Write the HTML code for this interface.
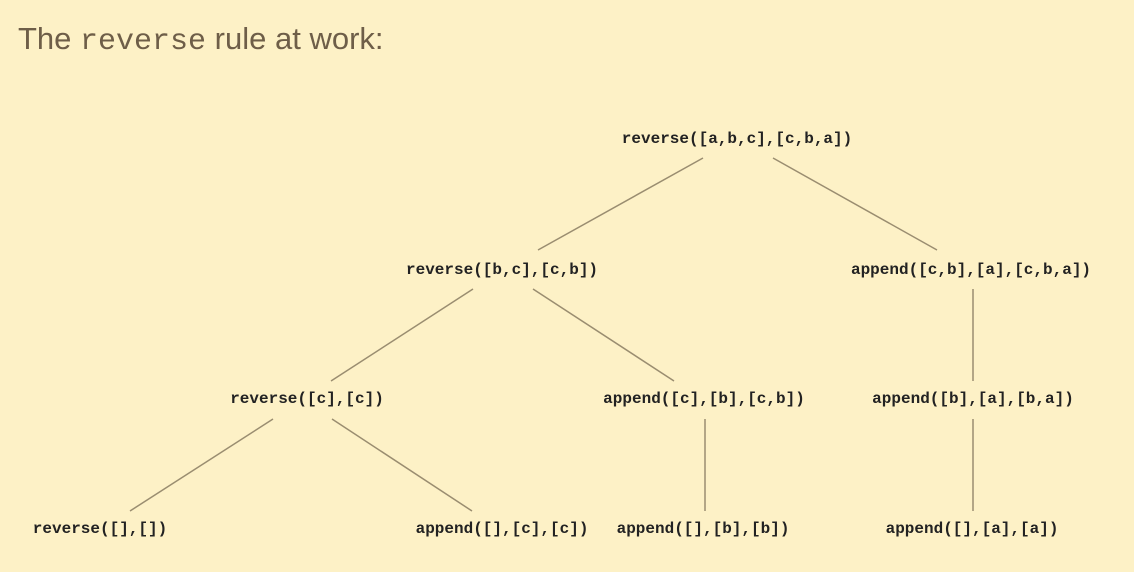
<!DOCTYPE html>
<html><head><style>
html,body{margin:0;padding:0;}
body{width:1134px;height:572px;background:#fdf1c6;position:relative;overflow:hidden;}
.t{position:absolute;left:18px;top:21px;font-family:"Liberation Sans",sans-serif;font-size:31px;color:#6e5e48;white-space:nowrap;}
.t code{font-family:"Liberation Mono",monospace;font-size:30px;}
.n{position:absolute;font-family:"Liberation Mono",monospace;font-weight:bold;font-size:16px;color:#222;white-space:nowrap;transform:translate(-50%,-50%);}
svg{position:absolute;left:0;top:0;}
</style></head><body>
<div class="t">The <code>reverse</code> rule at work:</div>
<svg width="1134" height="572"><g stroke="#9a8d70" stroke-width="1.5">
<line x1="703" y1="158" x2="538" y2="250"/>
<line x1="773" y1="158" x2="937" y2="250"/>
<line x1="473" y1="289" x2="331" y2="381"/>
<line x1="533" y1="289" x2="674" y2="381"/>
<line x1="973" y1="289" x2="973" y2="381"/>
<line x1="273" y1="419" x2="130" y2="511"/>
<line x1="332" y1="419" x2="472" y2="511"/>
<line x1="705" y1="419" x2="705" y2="511"/>
<line x1="973" y1="419" x2="973" y2="511"/>
</g></svg>
<div class="n" style="left:737px;top:139px">reverse([a,b,c],[c,b,a])</div>
<div class="n" style="left:502px;top:270px">reverse([b,c],[c,b])</div>
<div class="n" style="left:971px;top:270px">append([c,b],[a],[c,b,a])</div>
<div class="n" style="left:307px;top:399px">reverse([c],[c])</div>
<div class="n" style="left:704px;top:399px">append([c],[b],[c,b])</div>
<div class="n" style="left:973px;top:399px">append([b],[a],[b,a])</div>
<div class="n" style="left:100px;top:529px">reverse([],[])</div>
<div class="n" style="left:502px;top:529px">append([],[c],[c])</div>
<div class="n" style="left:703px;top:529px">append([],[b],[b])</div>
<div class="n" style="left:972px;top:529px">append([],[a],[a])</div>
</body></html>
